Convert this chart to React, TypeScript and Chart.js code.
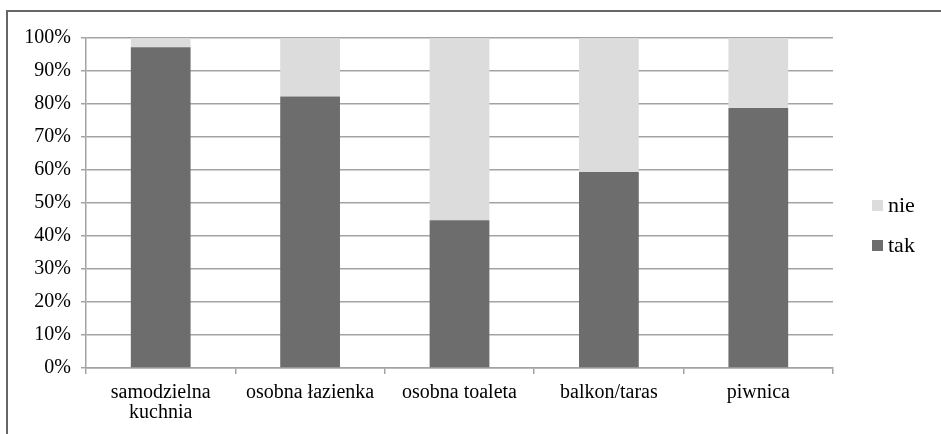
import React, { useEffect, useRef } from "react";
import { Chart, registerables } from "chart.js";

Chart.register(...registerables);

const categories: string[][] = [
  ["samodzielna", "kuchnia"],
  ["osobna łazienka"],
  ["osobna toaleta"],
  ["balkon/taras"],
  ["piwnica"],
];
const takValues: number[] = [97.2, 82.3, 44.8, 59.4, 78.8];
const nieValues: number[] = takValues.map((v) => Math.round((100 - v) * 10) / 10);
const seriesLabels = { tak: "tak", nie: "nie" };

const FONT = '"Liberation Serif", "Times New Roman", serif';
const FONT_SIZE = 20;
const GRID = "#a3a3a3";

const legendPlugin = {
  id: "rightLegend",
  afterDraw(chart: any) {
    const ctx = chart.ctx as CanvasRenderingContext2D;
    const ds = chart.data.datasets.slice().reverse();
    ctx.save();
    ctx.font = `${FONT_SIZE + 2}px ${FONT}`;
    ctx.textBaseline = "middle";
    ctx.textAlign = "left";
    ds.forEach((d: any, i: number) => {
      const y = 206 + i * 40;
      ctx.fillStyle = d.backgroundColor;
      ctx.fillRect(872, y - 6, 11, 11);
      ctx.fillStyle = "#000";
      ctx.fillText(d.label, 888, y);
    });
    ctx.restore();
  },
};

export default function App() {
  const ref = useRef<HTMLCanvasElement | null>(null);
  useEffect(() => {
    if (!ref.current) return;
    const chart = new Chart(ref.current, {
      type: "bar",
      data: {
        labels: categories,
        datasets: [
          {
            label: seriesLabels.tak,
            data: takValues,
            backgroundColor: "#6d6d6d",
            barPercentage: 0.4,
            categoryPercentage: 1,
          },
          {
            label: seriesLabels.nie,
            data: nieValues,
            backgroundColor: "#dcdcdc",
            barPercentage: 0.4,
            categoryPercentage: 1,
          },
        ],
      },
      options: {
        responsive: false,
        animation: false,
        devicePixelRatio: 1,
        layout: { padding: { left: 0, top: 38, right: 108, bottom: 0 } },
        plugins: { legend: { display: false }, tooltip: { enabled: false } },
        scales: {
          x: {
            stacked: true,
            grid: {
              drawOnChartArea: false,
              drawTicks: true,
              tickLength: 6,
              color: GRID,
              lineWidth: 1.5,
              offset: true,
            },
            border: { display: true, color: GRID, width: 1.5 },
            ticks: {
              color: "#000",
              padding: 9,
              maxRotation: 0,
              autoSkip: false,
              font: { family: FONT, size: FONT_SIZE, lineHeight: 20 / FONT_SIZE },
            },
            afterFit: (s: any) => {
              s.height = 66;
            },
          },
          y: {
            stacked: true,
            min: 0,
            max: 100,
            grid: { color: GRID, lineWidth: 1.5, tickLength: 5 },
            border: { display: true, color: GRID, width: 1.5 },
            ticks: {
              stepSize: 10,
              color: "#000",
              padding: 10,
              font: { family: FONT, size: FONT_SIZE },
              callback: (v: any) => v + "%",
            },
            afterFit: (s: any) => {
              s.width = 86;
            },
          },
        },
      },
      plugins: [legendPlugin],
    });
    return () => chart.destroy();
  }, []);

  return (
    <div style={{ position: "fixed", left: 0, top: 0, width: 941, height: 434, background: "#fff" }}>
      <canvas ref={ref} width={941} height={434} style={{ position: "absolute", left: 0, top: 0 }} />
      <div
        style={{
          position: "absolute",
          left: 6,
          top: 10,
          width: 935,
          height: 424,
          borderTop: "2px solid #666",
          borderLeft: "2px solid #666",
          boxSizing: "border-box",
          pointerEvents: "none",
        }}
      />
    </div>
  );
}
